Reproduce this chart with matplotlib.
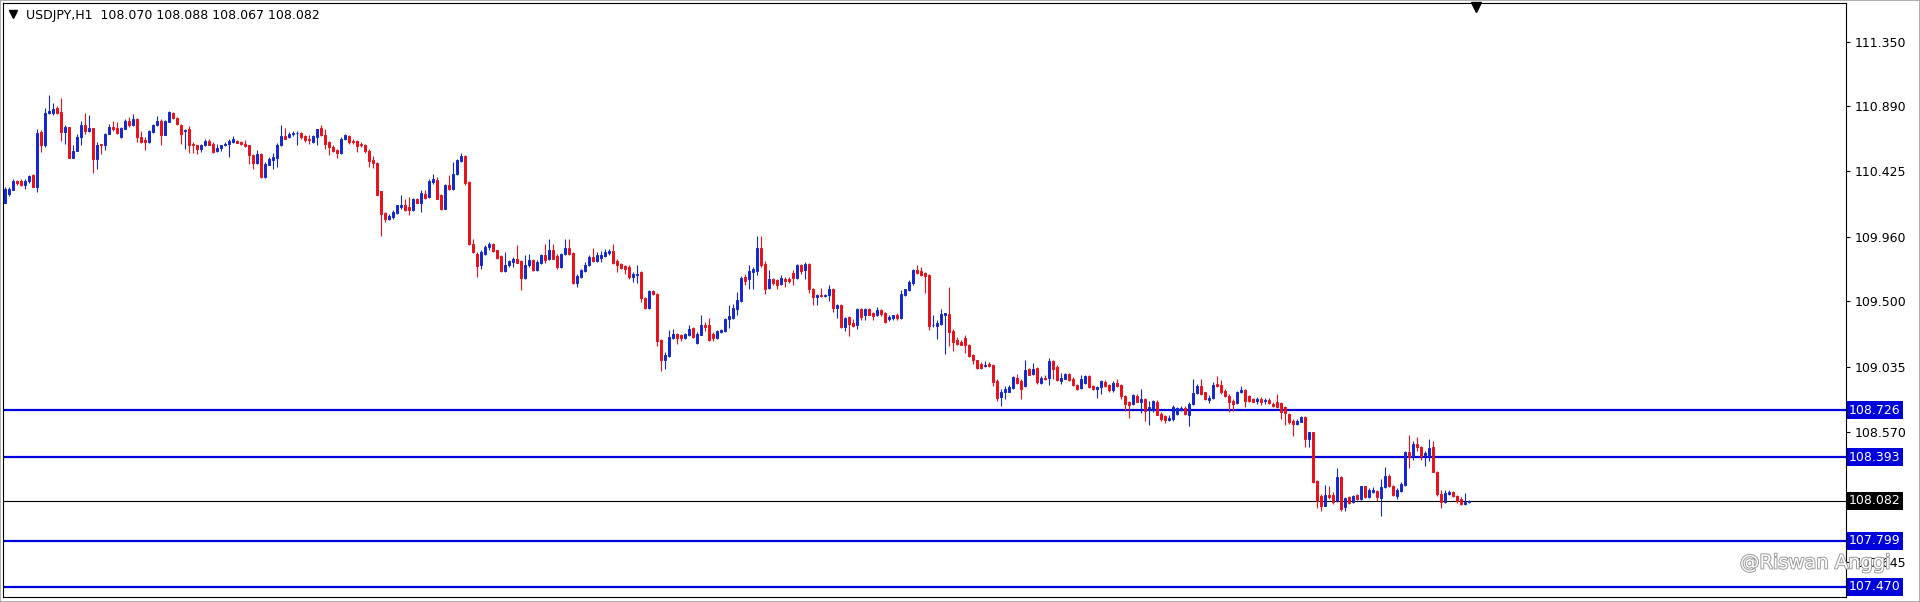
import matplotlib
matplotlib.use("Agg")
import matplotlib.pyplot as plt
import matplotlib.patheffects as pe
from matplotlib.lines import Line2D
from matplotlib.transforms import blended_transform_factory
import numpy as np

# header text
symbol = "USDJPY,H1"
last_ohlc = ["108.070", "108.088", "108.067", "108.082"]

# H1 candles (oldest first)
opens = [
    110.203, 110.267, 110.296, 110.357, 110.355, 110.326, 110.355, 110.398, 110.312, 110.706,
    110.611, 110.839, 110.844, 110.877, 110.849, 110.706, 110.742, 110.521, 110.573, 110.671,
    110.754, 110.711, 110.735, 110.516, 110.618, 110.611, 110.694, 110.742, 110.735, 110.671,
    110.730, 110.787, 110.758, 110.801, 110.671, 110.651, 110.635, 110.706, 110.754, 110.782,
    110.687, 110.777, 110.839, 110.806, 110.758, 110.711, 110.730, 110.621, 110.616, 110.583,
    110.611, 110.640, 110.623, 110.568, 110.592, 110.611, 110.621, 110.635, 110.640, 110.635,
    110.623, 110.611, 110.545, 110.488, 110.552, 110.386, 110.474, 110.505, 110.521, 110.611,
    110.678, 110.671, 110.694, 110.699, 110.701, 110.678, 110.659, 110.635, 110.671, 110.735,
    110.687, 110.635, 110.599, 110.576, 110.559, 110.656, 110.678, 110.642, 110.640, 110.623,
    110.616, 110.569, 110.504, 110.488, 110.283, 110.132, 110.084, 110.101, 110.132, 110.172,
    110.189, 110.172, 110.148, 110.231, 110.203, 110.267, 110.243, 110.352, 110.367, 110.260,
    110.160, 110.326, 110.298, 110.409, 110.497, 110.535, 110.350, 109.911, 109.840, 109.757,
    109.840, 109.888, 109.911, 109.864, 109.823, 109.714, 109.757, 109.781, 109.804, 109.785,
    109.667, 109.757, 109.792, 109.721, 109.776, 109.828, 109.800, 109.868, 109.823, 109.745,
    109.840, 109.880, 109.847, 109.633, 109.674, 109.714, 109.757, 109.816, 109.785, 109.809,
    109.823, 109.845, 109.857, 109.785, 109.769, 109.752, 109.745, 109.674, 109.688, 109.709,
    109.524, 109.453, 109.572, 109.555, 109.223, 109.080, 109.111, 109.240, 109.270, 109.258,
    109.240, 109.258, 109.310, 109.206, 109.263, 109.334, 109.334, 109.270, 109.239, 109.282,
    109.287, 109.372, 109.382, 109.443, 109.500, 109.674, 109.657, 109.709, 109.714, 109.880,
    109.768, 109.595, 109.657, 109.650, 109.626, 109.661, 109.661, 109.700, 109.666, 109.761,
    109.721, 109.768, 109.590, 109.531, 109.548, 109.538, 109.543, 109.586, 109.453, 109.477,
    109.317, 109.389, 109.348, 109.334, 109.443, 109.401, 109.448, 109.419, 109.401, 109.436,
    109.419, 109.372, 109.382, 109.401, 109.382, 109.548, 109.579, 109.633, 109.721, 109.714,
    109.704, 109.690, 109.330, 109.325, 109.341, 109.405, 109.412, 109.287, 109.223, 109.211,
    109.239, 109.192, 109.121, 109.080, 109.057, 109.040, 109.057, 109.049, 108.931, 108.819,
    108.859, 108.859, 108.883, 108.954, 108.931, 108.902, 109.016, 108.985, 109.026, 108.921,
    108.954, 108.954, 109.073, 109.033, 108.931, 108.950, 108.985, 108.945, 108.907, 108.883,
    108.921, 108.969, 108.902, 108.878, 108.890, 108.926, 108.907, 108.867, 108.921, 108.907,
    108.826, 108.783, 108.772, 108.826, 108.783, 108.807, 108.731, 108.731, 108.788, 108.700,
    108.684, 108.660, 108.665, 108.700, 108.731, 108.741, 108.693, 108.772, 108.850, 108.902,
    108.854, 108.802, 108.811, 108.913, 108.906, 108.866, 108.830, 108.795, 108.778, 108.854,
    108.873, 108.826, 108.807, 108.793, 108.807, 108.793, 108.802, 108.771, 108.788, 108.778,
    108.747, 108.700, 108.652, 108.629, 108.645, 108.676, 108.522, 108.569, 108.225, 108.118,
    108.047, 108.123, 108.123, 108.082, 108.249, 108.035, 108.106, 108.071, 108.123, 108.094,
    108.185, 108.106, 108.147, 108.154, 108.099, 108.177, 108.256, 108.189, 108.118, 108.154,
    108.194, 108.427, 108.398, 108.486, 108.462, 108.408, 108.403, 108.462, 108.289, 108.130,
    108.075, 108.130, 108.147, 108.113, 108.094, 108.059, 108.070,
]
highs = [
    110.314, 110.312, 110.374, 110.367, 110.374, 110.374, 110.398, 110.407, 110.730, 110.718,
    110.877, 110.972, 110.915, 110.891, 110.948, 110.754, 110.742, 110.611, 110.694, 110.782,
    110.844, 110.830, 110.735, 110.635, 110.623, 110.701, 110.766, 110.782, 110.777, 110.742,
    110.796, 110.813, 110.837, 110.806, 110.711, 110.671, 110.718, 110.766, 110.820, 110.796,
    110.789, 110.858, 110.849, 110.813, 110.766, 110.725, 110.749, 110.635, 110.616, 110.623,
    110.659, 110.659, 110.635, 110.623, 110.616, 110.635, 110.659, 110.678, 110.647, 110.644,
    110.647, 110.616, 110.552, 110.576, 110.559, 110.492, 110.528, 110.559, 110.630, 110.758,
    110.735, 110.706, 110.711, 110.711, 110.706, 110.687, 110.682, 110.687, 110.730, 110.754,
    110.725, 110.640, 110.611, 110.588, 110.671, 110.694, 110.687, 110.659, 110.647, 110.635,
    110.623, 110.588, 110.535, 110.493, 110.288, 110.136, 110.125, 110.148, 110.189, 110.255,
    110.231, 110.243, 110.236, 110.236, 110.291, 110.291, 110.374, 110.409, 110.386, 110.267,
    110.338, 110.402, 110.493, 110.516, 110.559, 110.545, 110.355, 109.946, 109.852, 109.864,
    109.899, 109.923, 109.918, 109.868, 109.828, 109.852, 109.792, 109.816, 109.904, 109.792,
    109.828, 109.840, 109.799, 109.792, 109.840, 109.911, 109.947, 109.911, 109.840, 109.847,
    109.947, 109.947, 109.852, 109.698, 109.733, 109.781, 109.828, 109.880, 109.852, 109.857,
    109.876, 109.876, 109.911, 109.799, 109.776, 109.762, 109.762, 109.709, 109.757, 109.714,
    109.531, 109.579, 109.579, 109.562, 109.235, 109.140, 109.294, 109.306, 109.277, 109.270,
    109.275, 109.330, 109.318, 109.282, 109.401, 109.353, 109.382, 109.282, 109.294, 109.306,
    109.382, 109.472, 109.484, 109.567, 109.681, 109.697, 109.757, 109.745, 109.966, 109.966,
    109.785, 109.721, 109.666, 109.661, 109.685, 109.674, 109.671, 109.721, 109.768, 109.768,
    109.780, 109.776, 109.595, 109.555, 109.595, 109.555, 109.619, 109.595, 109.484, 109.484,
    109.389, 109.396, 109.377, 109.453, 109.453, 109.453, 109.453, 109.424, 109.460, 109.448,
    109.424, 109.401, 109.405, 109.419, 109.579, 109.590, 109.650, 109.733, 109.757, 109.745,
    109.709, 109.697, 109.405, 109.365, 109.448, 109.419, 109.605, 109.306, 109.246, 109.223,
    109.258, 109.199, 109.128, 109.087, 109.068, 109.073, 109.068, 109.054, 108.945, 108.878,
    108.902, 108.907, 108.969, 108.985, 108.950, 109.080, 109.026, 109.064, 109.033, 108.969,
    108.978, 109.097, 109.080, 109.045, 108.992, 108.992, 108.992, 108.961, 108.914, 108.978,
    108.974, 108.974, 108.907, 108.902, 108.938, 108.938, 108.914, 108.931, 108.950, 108.914,
    108.836, 108.795, 108.843, 108.843, 108.878, 108.812, 108.795, 108.802, 108.802, 108.712,
    108.689, 108.689, 108.764, 108.748, 108.755, 108.755, 108.783, 108.950, 108.914, 108.949,
    108.859, 108.835, 108.925, 108.968, 108.944, 108.878, 108.842, 108.807, 108.866, 108.902,
    108.878, 108.835, 108.811, 108.819, 108.819, 108.811, 108.811, 108.783, 108.842, 108.788,
    108.759, 108.707, 108.664, 108.664, 108.688, 108.683, 108.574, 108.574, 108.232, 108.130,
    108.194, 108.189, 108.142, 108.313, 108.260, 108.106, 108.113, 108.123, 108.130, 108.189,
    108.189, 108.170, 108.178, 108.161, 108.237, 108.320, 108.272, 108.194, 108.170, 108.213,
    108.439, 108.550, 108.510, 108.533, 108.474, 108.439, 108.522, 108.510, 108.296, 108.161,
    108.161, 108.161, 108.154, 108.123, 108.106, 108.137, 108.088,
]
lows = [
    110.203, 110.250, 110.291, 110.331, 110.322, 110.298, 110.345, 110.312, 110.279, 110.564,
    110.599, 110.834, 110.825, 110.834, 110.640, 110.623, 110.521, 110.521, 110.568, 110.611,
    110.694, 110.706, 110.417, 110.445, 110.552, 110.576, 110.690, 110.711, 110.694, 110.666,
    110.725, 110.742, 110.749, 110.635, 110.630, 110.576, 110.630, 110.701, 110.749, 110.616,
    110.682, 110.777, 110.801, 110.754, 110.623, 110.588, 110.559, 110.559, 110.550, 110.564,
    110.604, 110.611, 110.559, 110.564, 110.568, 110.606, 110.526, 110.625, 110.625, 110.611,
    110.599, 110.481, 110.440, 110.481, 110.379, 110.381, 110.469, 110.440, 110.457, 110.606,
    110.654, 110.663, 110.678, 110.616, 110.659, 110.635, 110.623, 110.630, 110.616, 110.678,
    110.588, 110.545, 110.564, 110.521, 110.552, 110.647, 110.623, 110.623, 110.564, 110.599,
    110.559, 110.457, 110.450, 110.255, 109.966, 110.065, 110.080, 110.089, 110.125, 110.160,
    110.141, 110.113, 110.141, 110.198, 110.136, 110.227, 110.238, 110.338, 110.227, 110.148,
    110.155, 110.291, 110.291, 110.402, 110.493, 110.331, 109.904, 109.847, 109.674, 109.728,
    109.833, 109.864, 109.852, 109.804, 109.709, 109.709, 109.745, 109.745, 109.771, 109.579,
    109.657, 109.745, 109.714, 109.714, 109.769, 109.776, 109.792, 109.800, 109.728, 109.740,
    109.828, 109.828, 109.626, 109.603, 109.667, 109.709, 109.752, 109.781, 109.781, 109.781,
    109.816, 109.828, 109.769, 109.709, 109.728, 109.698, 109.662, 109.638, 109.633, 109.496,
    109.443, 109.448, 109.543, 109.182, 109.002, 109.021, 109.104, 109.235, 109.199, 109.216,
    109.235, 109.254, 109.240, 109.199, 109.258, 109.287, 109.216, 109.216, 109.235, 109.277,
    109.282, 109.310, 109.377, 109.405, 109.496, 109.614, 109.590, 109.586, 109.685, 109.745,
    109.555, 109.590, 109.614, 109.586, 109.619, 109.602, 109.633, 109.614, 109.661, 109.697,
    109.657, 109.562, 109.477, 109.472, 109.531, 109.531, 109.500, 109.424, 109.382, 109.310,
    109.287, 109.253, 109.318, 109.301, 109.365, 109.365, 109.401, 109.365, 109.396, 109.396,
    109.348, 109.358, 109.365, 109.365, 109.377, 109.538, 109.571, 109.614, 109.697, 109.681,
    109.562, 109.294, 109.318, 109.230, 109.334, 109.127, 109.184, 109.151, 109.192, 109.187,
    109.135, 109.104, 109.057, 109.021, 109.021, 109.033, 109.033, 108.902, 108.795, 108.755,
    108.807, 108.855, 108.878, 108.914, 108.807, 108.890, 108.974, 108.978, 108.914, 108.914,
    108.938, 108.907, 108.945, 108.931, 108.914, 108.945, 108.931, 108.897, 108.867, 108.878,
    108.914, 108.883, 108.867, 108.812, 108.843, 108.890, 108.859, 108.859, 108.890, 108.807,
    108.724, 108.670, 108.764, 108.783, 108.708, 108.653, 108.622, 108.712, 108.689, 108.653,
    108.636, 108.653, 108.653, 108.693, 108.724, 108.693, 108.617, 108.764, 108.843, 108.835,
    108.802, 108.778, 108.807, 108.890, 108.842, 108.819, 108.712, 108.724, 108.771, 108.849,
    108.747, 108.788, 108.783, 108.771, 108.764, 108.771, 108.771, 108.747, 108.740, 108.664,
    108.621, 108.629, 108.546, 108.621, 108.640, 108.463, 108.463, 108.208, 108.028, 108.011,
    108.042, 108.094, 108.059, 108.075, 108.011, 108.011, 108.059, 108.066, 108.090, 108.090,
    108.099, 108.099, 108.137, 108.082, 107.971, 108.170, 108.178, 108.113, 108.094, 108.147,
    108.189, 108.313, 108.375, 108.439, 108.375, 108.332, 108.367, 108.284, 108.118, 108.028,
    108.066, 108.123, 108.106, 108.066, 108.051, 108.051, 108.067,
]
closes = [
    110.303, 110.303, 110.357, 110.341, 110.326, 110.360, 110.390, 110.312, 110.701, 110.611,
    110.844, 110.853, 110.872, 110.844, 110.706, 110.742, 110.521, 110.573, 110.671, 110.754,
    110.711, 110.735, 110.516, 110.616, 110.611, 110.694, 110.742, 110.730, 110.701, 110.735,
    110.782, 110.754, 110.801, 110.671, 110.635, 110.635, 110.711, 110.758, 110.782, 110.687,
    110.782, 110.849, 110.806, 110.766, 110.694, 110.718, 110.611, 110.611, 110.583, 110.611,
    110.640, 110.616, 110.564, 110.592, 110.611, 110.623, 110.640, 110.654, 110.630, 110.621,
    110.606, 110.545, 110.488, 110.552, 110.386, 110.481, 110.516, 110.528, 110.611, 110.678,
    110.659, 110.694, 110.701, 110.701, 110.671, 110.647, 110.647, 110.678, 110.725, 110.687,
    110.623, 110.599, 110.569, 110.559, 110.659, 110.682, 110.635, 110.635, 110.606, 110.611,
    110.569, 110.497, 110.488, 110.260, 110.125, 110.084, 110.108, 110.136, 110.184, 110.189,
    110.148, 110.148, 110.231, 110.203, 110.274, 110.236, 110.355, 110.374, 110.231, 110.160,
    110.331, 110.298, 110.409, 110.504, 110.535, 110.345, 109.911, 109.852, 109.752, 109.852,
    109.888, 109.911, 109.857, 109.809, 109.714, 109.762, 109.785, 109.804, 109.776, 109.667,
    109.762, 109.792, 109.721, 109.781, 109.828, 109.792, 109.868, 109.804, 109.745, 109.840,
    109.880, 109.840, 109.633, 109.681, 109.721, 109.762, 109.816, 109.785, 109.828, 109.828,
    109.852, 109.857, 109.776, 109.762, 109.738, 109.733, 109.674, 109.698, 109.698, 109.524,
    109.453, 109.572, 109.555, 109.216, 109.080, 109.116, 109.247, 109.270, 109.240, 109.240,
    109.270, 109.306, 109.247, 109.270, 109.334, 109.318, 109.223, 109.239, 109.287, 109.294,
    109.377, 109.396, 109.453, 109.507, 109.666, 109.643, 109.714, 109.733, 109.880, 109.761,
    109.590, 109.657, 109.633, 109.619, 109.666, 109.647, 109.643, 109.666, 109.761, 109.714,
    109.768, 109.590, 109.531, 109.548, 109.536, 109.548, 109.586, 109.453, 109.477, 109.317,
    109.382, 109.341, 109.325, 109.448, 109.389, 109.448, 109.405, 109.396, 109.436, 109.412,
    109.353, 109.389, 109.401, 109.382, 109.555, 109.586, 109.638, 109.721, 109.704, 109.690,
    109.681, 109.325, 109.334, 109.348, 109.412, 109.417, 109.284, 109.211, 109.199, 109.192,
    109.187, 109.111, 109.087, 109.026, 109.026, 109.049, 109.040, 108.926, 108.812, 108.859,
    108.878, 108.890, 108.962, 108.921, 108.878, 109.009, 108.978, 109.016, 108.926, 108.954,
    108.950, 109.073, 109.016, 108.938, 108.954, 108.985, 108.938, 108.907, 108.874, 108.945,
    108.969, 108.890, 108.878, 108.890, 108.931, 108.902, 108.867, 108.921, 108.902, 108.826,
    108.772, 108.764, 108.836, 108.788, 108.807, 108.724, 108.748, 108.795, 108.693, 108.665,
    108.660, 108.672, 108.748, 108.741, 108.741, 108.700, 108.772, 108.850, 108.902, 108.842,
    108.807, 108.816, 108.906, 108.897, 108.859, 108.826, 108.788, 108.771, 108.859, 108.873,
    108.795, 108.795, 108.788, 108.807, 108.788, 108.802, 108.778, 108.759, 108.747, 108.716,
    108.707, 108.641, 108.629, 108.652, 108.676, 108.522, 108.569, 108.213, 108.082, 108.047,
    108.123, 108.106, 108.071, 108.249, 108.023, 108.099, 108.066, 108.113, 108.094, 108.185,
    108.106, 108.161, 108.161, 108.106, 108.177, 108.260, 108.185, 108.123, 108.161, 108.201,
    108.427, 108.391, 108.486, 108.462, 108.398, 108.422, 108.455, 108.289, 108.130, 108.075,
    108.137, 108.147, 108.113, 108.082, 108.059, 108.071, 108.082,
]
assert len(opens) == len(highs) == len(lows) == len(closes)

# horizontal levels drawn on the chart
level_prices = [108.726, 108.393, 107.799, 107.470]
bid_price = 108.082
price_ticks = [111.350, 110.890, 110.425, 109.960, 109.500, 109.035, 108.570, 107.645]
watermark = "@Riswan Anggi"

BULL = "#1428d0"
BEAR = "#e8101a"
LEVEL = "#0000dc"

W, H = 1920, 602
fig = plt.figure(figsize=(W / 100, H / 100), dpi=100)
ax = fig.add_axes([3 / W, (H - 597) / H, (1846 - 3) / W, 594 / H])

o = np.array(opens); h = np.array(highs); l = np.array(lows); c = np.array(closes)
x = np.arange(len(o))
up = c >= o
cols = np.where(up, BULL, BEAR)

ax.vlines(x, l, h, colors=cols, linewidth=0.8, zorder=3)
ax.bar(x, np.abs(c - o), bottom=np.minimum(o, c), width=0.58, color=cols,
       edgecolor=cols, linewidth=0.7, zorder=4)

for p in level_prices:
    ax.axhline(p, color=LEVEL, linewidth=1.6, zorder=2)
ax.axhline(bid_price, color="black", linewidth=0.8, zorder=2)

ax.set_xlim(-0.5, 460.25)
ax.set_ylim(107.397, 111.624)
ax.set_xticks([])
ax.yaxis.tick_right()
ax.set_yticks(price_ticks)
ax.set_yticklabels([f"{t:.3f}" for t in price_ticks])
ax.tick_params(axis="y", length=3, width=0.8, pad=3, labelsize=9, colors="black")
for s in ax.spines.values():
    s.set_linewidth(0.8)
    s.set_color("black")

# price labels on the scale
tr = blended_transform_factory(ax.transAxes, ax.transData)
for p in level_prices:
    ax.text(1.0017, p, f"{p:.3f}", transform=tr, ha="left", va="center", fontsize=9,
            color="white", zorder=6, clip_on=False,
            bbox=dict(boxstyle="square,pad=0.2", fc=LEVEL, ec="none"))
ax.text(1.0017, bid_price, f"{bid_price:.3f}", transform=tr, ha="left", va="center",
        fontsize=9, color="white", zorder=6, clip_on=False,
        bbox=dict(boxstyle="square,pad=0.2", fc="black", ec="none"))

# header
fig.add_artist(Line2D([13 / W], [1 - 14 / H], marker="v", markersize=6, color="black",
                      transform=fig.transFigure))
fig.text(26 / W, 1 - 15 / H, symbol + "  " + " ".join(last_ohlc), fontsize=9,
         va="center", ha="left")
# chart shift marker
fig.add_artist(Line2D([1476 / W], [1 - 7 / H], marker="v", markersize=7, color="black",
                      transform=fig.transFigure))

fig.text(1740 / W, 1 - 563 / H, watermark, fontsize=14, color="white", va="center",
         ha="left", zorder=10,
         path_effects=[pe.withStroke(linewidth=1.4, foreground="#9a9a9a")])

fig.add_artist(plt.Rectangle((0, 0), 1, 1, transform=fig.transFigure, fill=False,
                             edgecolor="#a0a0a0", linewidth=1.2))

fig.savefig("out.png", dpi=100)
